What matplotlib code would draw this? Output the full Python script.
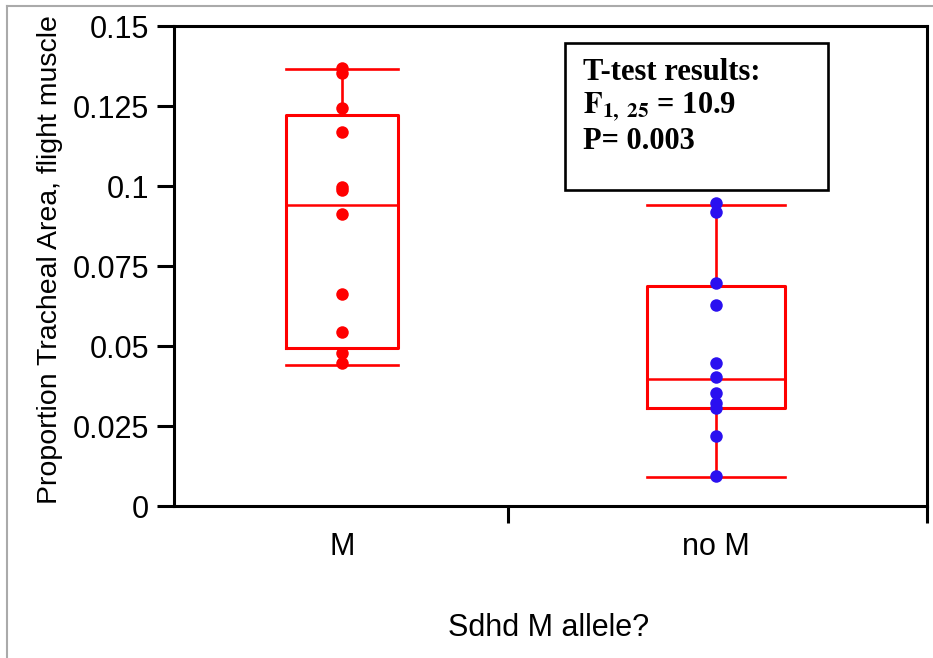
import matplotlib
matplotlib.use("Agg")
import matplotlib.pyplot as plt
from matplotlib.lines import Line2D
from matplotlib.patches import Rectangle

plt.rcParams['font.family'] = ['Liberation Sans', 'DejaVu Sans']
plt.rcParams['mathtext.fontset'] = 'stix'

# ---- data ----
categories = ["M", "no M"]
m_points = [0.1368, 0.1352, 0.1243, 0.1170, 0.0996, 0.0988, 0.0912, 0.0662, 0.0545, 0.0479, 0.0446]
nom_points = [0.0946, 0.0918, 0.0696, 0.0628, 0.0446, 0.0404, 0.0354, 0.0323, 0.0305, 0.0220, 0.0095]
box_q1 = [0.0493, 0.0307]
box_med = [0.0941, 0.0398]
box_q3 = [0.1222, 0.0689]
whisk_lo = [0.0441, 0.0092]
whisk_hi = [0.1365, 0.0941]
yticks = [0, 0.025, 0.05, 0.075, 0.1, 0.125, 0.15]
ytick_labels = ["0", "0.025", "0.05", "0.075", "0.1", "0.125", "0.15"]
stats_lines = ["T-test results:", r"$\mathbf{F_{1,\ 25}}$ = 10.9", "P= 0.003"]

fig = plt.figure(figsize=(9.33, 6.58), dpi=100)
ax = fig.add_axes([174/933, 1-506/658, (927-174)/933, (506-26)/658])

positions = [1, 2]
stats = []
for i in range(2):
    stats.append(dict(med=box_med[i], q1=box_q1[i], q3=box_q3[i],
                      whislo=whisk_lo[i], whishi=whisk_hi[i], label=categories[i]))
widths = [0.30, 0.37]
red = '#ff0000'
ax.bxp(stats, positions=positions, widths=widths, capwidths=widths, showfliers=False,
       boxprops=dict(color=red, linewidth=2.2),
       medianprops=dict(color=red, linewidth=1.8),
       whiskerprops=dict(color=red, linewidth=1.9),
       capprops=dict(color=red, linewidth=1.9), manage_ticks=False)

ax.plot([positions[0]]*len(m_points), m_points, 'o', color=red, ms=9, mec='none', zorder=5)
ax.plot([positions[1]]*len(nom_points), nom_points, 'o', color='#2a10f0', ms=9, mec='none', zorder=5)

ax.set_xlim(0.551, 2.564)
ax.set_ylim(0, 0.15)
ax.set_yticks(yticks)
ax.set_yticklabels(ytick_labels)
ax.set_xticks(positions)
ax.set_xticklabels(categories)
ax.set_xticks([1.444, 2.564], minor=True)
ax.tick_params(axis='x', which='major', length=0, pad=19, labelsize=22)
ax.tick_params(axis='x', which='minor', length=12, width=2.2, direction='out')
ax.tick_params(axis='y', length=12, width=2.2, pad=6, labelsize=22)
for s in ax.spines.values():
    s.set_linewidth(2.2)

ax.set_xlabel("Sdhd M allele?", fontsize=22)
ax.xaxis.set_label_coords(0.497, -0.222)
ax.set_ylabel("Proportion Tracheal Area, flight muscle", fontsize=20.5)
ax.yaxis.set_label_coords(-0.147, 0.5125)

# stats box
ax.add_patch(Rectangle((0.519, 0.658), 0.8685-0.519, 0.9646-0.658, transform=ax.transAxes,
                       fill=False, edgecolor='black', linewidth=1.9, zorder=6))
ys = [0.904, 0.831, 0.760]
for t, y in zip(stats_lines, ys):
    ax.text(0.543, y, t, transform=ax.transAxes, ha='left', va='center',
            fontsize=22, fontweight='bold', family='Liberation Serif', zorder=7)

# outer gray frame (top and left)
fig.add_artist(Line2D([7/933, 1.0], [1-6/658, 1-6/658], transform=fig.transFigure,
                      color='#aaaaaa', linewidth=1.5))
fig.add_artist(Line2D([7/933, 7/933], [0, 1-6/658], transform=fig.transFigure,
                      color='#aaaaaa', linewidth=1.5))

fig.savefig("out.png", dpi=100)
